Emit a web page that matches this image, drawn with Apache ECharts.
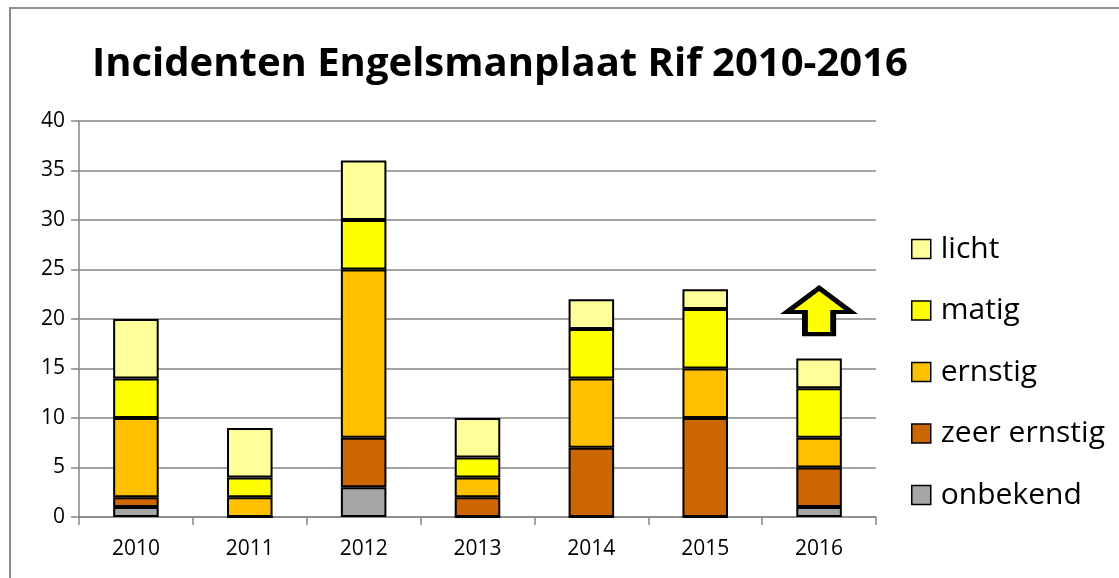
<!DOCTYPE html>
<html>
<head>
<meta charset="utf-8">
<script src="https://cdn.jsdelivr.net/npm/echarts@6/dist/echarts.min.js"></script>
<style>
html,body{margin:0;padding:0;background:#fff;}
#chart{width:1119px;height:578px;}
</style>
</head>
<body>
<div id="chart"></div>
<script>
// 数据
var years = ['2010', '2011', '2012', '2013', '2014', '2015', '2016'];
var onbekend = [1, 0, 3, 0, 0, 0, 1];
var zeerErnstig = [1, 0, 5, 2, 7, 10, 4];
var ernstig = [8, 2, 17, 2, 7, 5, 3];
var matig = [4, 2, 5, 2, 5, 6, 5];
var licht = [6, 5, 6, 4, 3, 2, 3];
var yTicks = [0, 5, 10, 15, 20, 25, 30, 35, 40];

var font = 'Open Sans';
var axisGray = '#868686';

function bar(name, data, color) {
	return {
		name: name,
		type: 'bar',
		stack: 'totaal',
		barWidth: '40%',
		itemStyle: {color: color, borderColor: '#000', borderWidth: 2},
		data: data
	};
}

var myChart = echarts.init(document.getElementById('chart'));
var series = [
	bar('onbekend', onbekend, '#a6a6a6'),
	bar('zeer ernstig', zeerErnstig, '#cc6600'),
	bar('ernstig', ernstig, '#ffc000'),
	bar('matig', matig, '#ffff00'),
	bar('licht', licht, '#ffff99')
];
// pijl boven 2016
series[4].markPoint = {
	symbol: 'path://M34,0 L68,26 L49,26 L49,50 L19,50 L19,26 L0,26 Z',
	symbolSize: [64, 46],
	symbolKeepAspect: false,
	itemStyle: {color: '#ffff00', borderColor: '#000', borderWidth: 5},
	label: {show: false},
	data: [{coord: ['2016', 20.8]}]
};

var option = {
	animation: false,
	backgroundColor: '#fff',
	graphic: [{
		type: 'rect',
		shape: {x: 10, y: 8, width: 1200, height: 700},
		style: {fill: 'none', stroke: '#8c8c8c', lineWidth: 2},
		silent: true
	}],
	title: {
		text: 'Incidenten Engelsmanplaat Rif 2010-2016',
		left: 87,
		top: 40,
		textStyle: {fontFamily: font, fontWeight: 'bold', fontSize: 40, color: '#000'}
	},
	legend: {
		orient: 'vertical',
		left: 906,
		top: 229,
		itemWidth: 19,
		itemHeight: 19,
		itemGap: 31.5,
		icon: 'rect',
		data: ['licht', 'matig', 'ernstig', 'zeer ernstig', 'onbekend'],
		itemStyle: {borderColor: '#000', borderWidth: 1.5},
		textStyle: {fontFamily: font, fontSize: 30, color: '#000', padding: [0, 0, 0, 5]}
	},
	grid: {left: 79, right: 243, top: 121, bottom: 61},
	xAxis: {
		type: 'category',
		data: years,
		axisLine: {lineStyle: {color: axisGray, width: 1.5}},
		axisTick: {show: true, length: 8, lineStyle: {color: axisGray, width: 1.5}},
		axisLabel: {fontFamily: font, fontSize: 21, color: '#000', margin: 22}
	},
	yAxis: {
		type: 'value',
		min: 0,
		max: 40,
		interval: 5,
		axisLine: {show: true, lineStyle: {color: axisGray, width: 1.5}},
		axisTick: {show: true, length: 8, lineStyle: {color: axisGray, width: 1.5}},
		axisLabel: {
			fontFamily: font, fontSize: 21, color: '#000', margin: 14,
			formatter: function (v) { return yTicks.indexOf(v) >= 0 ? String(v) : ''; }
		},
		splitLine: {lineStyle: {color: axisGray, width: 1.5}}
	},
	series: series
};

myChart.setOption(option);
</script>
</body>
</html>
